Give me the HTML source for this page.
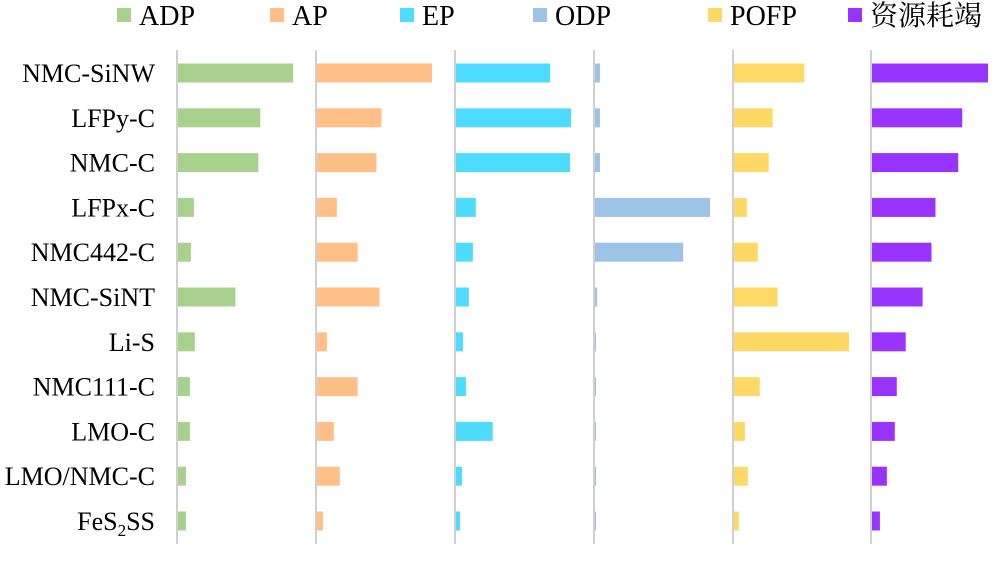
<!DOCTYPE html>
<html><head><meta charset="utf-8"><style>
body{margin:0;background:#fff;width:1000px;height:563px;overflow:hidden}
svg text{font-family:"Liberation Serif","Noto Serif CJK SC",serif;fill:#000}
</style></head><body>
<svg id="chart" width="1000" height="563" xmlns="http://www.w3.org/2000/svg"></svg>
<script>
const categories=["NMC-SiNW","LFPy-C","NMC-C","LFPx-C","NMC442-C","NMC-SiNT","Li-S","NMC111-C","LMO-C","LMO/NMC-C","FeS2SS"];
const seriesNames=["ADP","AP","EP","ODP","POFP","资源耗竭"];
const adp=[116,83,81,16,13,58,17,12,12,8,8];
const ap=[116,65,60,20,41,63,10,41,17,23,6];
const ep=[95,116,115,20,17,13,7,10,37,6,4];
const odp=[5,5,5,116,89,2,1,1,1,1,1];
const pofp=[71,39,35,13,24,44,116,26,11,14,5];
const res=[117,91,87,64,60,51,34,25,23,15,8];
const series=[adp,ap,ep,odp,pofp,res];
const colors=["#a9d18e","#ffbf86","#4ddcff","#9dc3e6","#ffd966","#9933ff"];
const svg=document.getElementById('chart');
const NS="http://www.w3.org/2000/svg";
const panelX=[177,316,455,594,733,871];
const maxV=117;
function xs(v){return v/maxV*116;}
function yc(i){return 73+i*44.8;}
function mk(t,a){const e=document.createElementNS(NS,t);for(const k in a)e.setAttribute(k,a[k]);svg.appendChild(e);return e;}
// legend
const legX=[117,270,400,533,708,848];
seriesNames.forEach((n,s)=>{
 const r=mk('rect',{x:legX[s],y:8,width:14,height:14,fill:colors[s]});
 
 
 const t=mk('text',{x:legX[s]+22,y:25,'font-size':28});
 t.textContent=n;
 
 
});
// axes
panelX.forEach((px,s)=>{
 const l=mk('line',{x1:px,x2:px,y1:50,y2:544,stroke:'#d0d0d0','stroke-width':2});
 
 
});
// category labels
categories.forEach((c,i)=>{
 const t=mk('text',{x:155,y:yc(i)+9,'font-size':26,'text-anchor':'end'});
 if(c==="FeS2SS"){t.innerHTML='FeS<tspan font-size="17" dy="6">2</tspan><tspan dy="-6">SS</tspan>';}
 else t.textContent=c;
 
 
});
// bars
series.forEach((vals,s)=>{
 vals.forEach((v,i)=>{
  const b=mk('rect',{x:panelX[s]+1,y:yc(i)-9.5,width:xs(v),height:19,fill:colors[s]});
  
  
 });
});
</script>
</body></html>
